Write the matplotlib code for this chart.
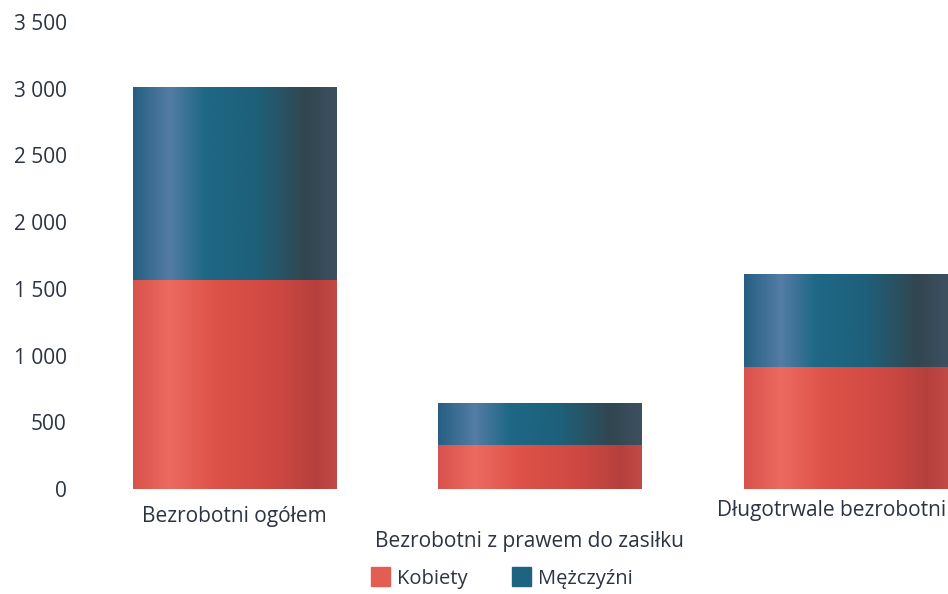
import matplotlib
matplotlib.use("Agg")
import matplotlib.pyplot as plt
import numpy as np
from matplotlib.colors import LinearSegmentedColormap
from matplotlib.patches import Rectangle
from matplotlib.ticker import FuncFormatter

categories = ["Bezrobotni ogółem", "Bezrobotni z prawem do zasiłku", "Długotrwale bezrobotni"]
kobiety = [1565, 330, 915]
mezczyzni = [1445, 315, 695]
series_names = ["Kobiety", "Mężczyźni"]
yticks = [0, 500, 1000, 1500, 2000, 2500, 3000, 3500]

plt.rcParams['font.family'] = ['Open Sans', 'DejaVu Sans']
txt = '#2b3440'

red_stops = [(0.0, (215, 82, 76)), (0.18, (236, 106, 96)), (0.4, (222, 82, 72)),
             (0.7, (206, 72, 66)), (0.9, (182, 64, 62)), (1.0, (194, 74, 70))]
blue_stops = [(0.0, (38, 95, 130)), (0.18, (84, 124, 164)), (0.35, (30, 104, 134)),
              (0.6, (30, 96, 122)), (0.85, (50, 70, 80)), (1.0, (60, 80, 96))]

def cmap(name, stops):
    return LinearSegmentedColormap.from_list(name, [(p, tuple(c / 255 for c in col)) for p, col in stops])

red_cm = cmap('r', red_stops)
blue_cm = cmap('b', blue_stops)

fig = plt.figure(figsize=(9.48, 5.94), dpi=100)
ax = fig.add_axes([82 / 948, 105 / 594, 916 / 948, 467 / 594])
x = np.arange(len(categories))
w = 0.665
b1 = ax.bar(x, kobiety, w, color=red_cm(0.4), label=series_names[0])
b2 = ax.bar(x, mezczyzni, w, bottom=kobiety, color=blue_cm(0.4), label=series_names[1])

grad = np.linspace(0, 1, 256).reshape(1, -1)
for bars, cm in ((b1, red_cm), (b2, blue_cm)):
    for p in bars:
        x0, y0 = p.get_x(), p.get_y()
        im = ax.imshow(grad, cmap=cm, aspect='auto', interpolation='bicubic',
                       extent=(x0, x0 + p.get_width(), y0, y0 + p.get_height()), zorder=2)
        im.set_clip_path(p)

ax.set_xlim(-0.5, 2.5)
ax.set_ylim(0, 3500)
ax.set_yticks(yticks)
ax.yaxis.set_major_formatter(FuncFormatter(lambda v, _: f"{int(v):,}".replace(",", " ")))
ax.tick_params(axis='y', length=0, pad=11, labelsize=15, labelcolor=txt)
ax.set_xticks([])
for s in ax.spines.values():
    s.set_visible(False)

label_offsets = [(0.0, -0.058), (-0.035, -0.112), (-0.045, -0.047)]
for i, c in enumerate(categories):
    dx, dy = label_offsets[i]
    ax.text(x[i] + dx, dy, c, transform=ax.get_xaxis_transform(), ha='center', va='center',
            fontsize=15, color=txt)

handles = [Rectangle((0, 0), 1, 1, color=red_cm(0.3)), Rectangle((0, 0), 1, 1, color=blue_cm(0.5))]
fig.legend(handles, series_names, loc='center', bbox_to_anchor=(502 / 948, 1 - 578 / 594),
           ncol=2, frameon=False, fontsize=14.5, labelcolor=txt, handlelength=0.95,
           handleheight=1.05, handletextpad=0.35, columnspacing=2.2)

fig.savefig("out.png", dpi=100)
